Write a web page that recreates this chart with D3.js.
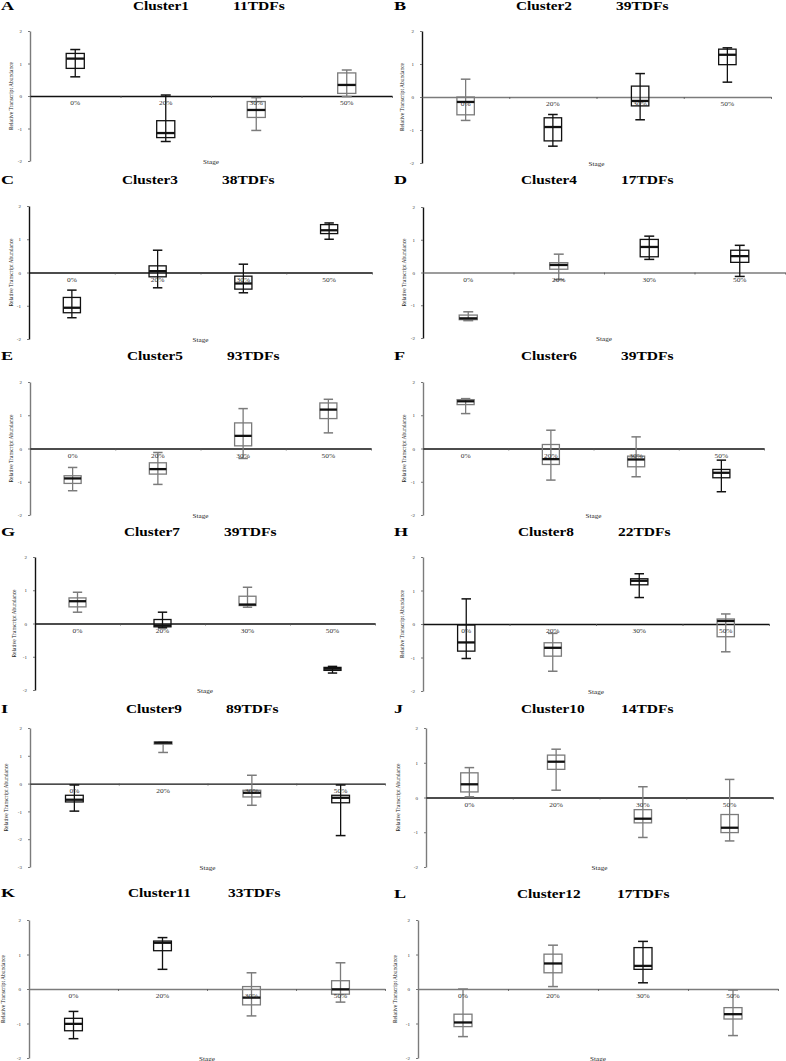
<!DOCTYPE html>
<html><head><meta charset="utf-8">
<script src="https://cdn.jsdelivr.net/npm/d3@7"></script>
<style>html,body{margin:0;padding:0;background:#fff}svg{display:block}</style>
</head><body><svg id="c" width="786" height="1061"></svg>
<script>
// ---------------- DATA ----------------
const categories = ["0%", "20%", "30%", "50%"];
const panelLetters = ["A","B","C","D","E","F","G","H","I","J","K","L"];
const clusterNames = ["Cluster1","Cluster2","Cluster3","Cluster4","Cluster5","Cluster6",
                      "Cluster7","Cluster8","Cluster9","Cluster10","Cluster11","Cluster12"];
const tdfLabels = ["11TDFs","39TDFs","38TDFs","17TDFs","93TDFs","39TDFs",
                   "39TDFs","22TDFs","89TDFs","14TDFs","33TDFs","17TDFs"];
const yMaxValue = 2;
const yMinValues = [-2,-2,-2,-2,-2,-2,-2,-2,-3,-2,-2,-2];
const yAxisTitle = "Relative Transcript Abundance";
const xAxisTitle = "Stage";
// each box: [min, q1, median, q3, max]
const cluster1  = [[0.59,0.85,1.15,1.31,1.43],[-1.40,-1.28,-1.14,-0.76,0.03],[-1.06,-0.66,-0.43,-0.17,-0.05],[-0.02,0.08,0.34,0.71,0.80]];
const cluster2  = [[-0.71,-0.54,-0.15,0.00,0.54],[-1.49,-1.33,-0.91,-0.63,-0.53],[-0.69,-0.27,-0.12,0.33,0.71],[0.45,0.98,1.28,1.45,1.49]];
const cluster3  = [[-1.36,-1.21,-1.06,-0.75,-0.53],[-0.46,-0.13,0.04,0.20,0.67],[-0.61,-0.50,-0.33,-0.11,0.25],[1.00,1.17,1.27,1.44,1.49]];
const cluster4  = [[-1.47,-1.44,-1.40,-1.30,-1.20],[-0.22,0.10,0.23,0.30,0.56],[0.40,0.48,0.78,1.01,1.11],[-0.12,0.31,0.50,0.68,0.83]];
const cluster5  = [[-1.27,-1.05,-0.90,-0.82,-0.57],[-1.08,-0.77,-0.62,-0.43,-0.12],[-0.30,0.08,0.38,0.77,1.20],[0.47,0.90,1.17,1.37,1.48]];
const cluster6  = [[1.05,1.32,1.42,1.47,1.50],[-0.95,-0.48,-0.32,0.12,0.55],[-0.85,-0.55,-0.33,-0.23,0.35],[-1.30,-0.88,-0.73,-0.63,-0.35]];
const cluster7  = [[0.34,0.50,0.67,0.77,0.94],[-0.13,-0.10,-0.06,0.12,0.34],[0.49,0.54,0.57,0.82,1.09],[-1.49,-1.41,-1.36,-1.32,-1.29]];
const cluster8  = [[-1.03,-0.81,-0.55,-0.03,0.75],[-1.41,-0.96,-0.71,-0.56,-0.28],[0.79,1.17,1.29,1.35,1.50],[-0.83,-0.38,0.09,0.15,0.30]];
const cluster9  = [[-0.99,-0.66,-0.58,-0.42,-0.05],[1.12,1.42,1.47,1.50,1.50],[-0.78,-0.48,-0.33,-0.24,0.30],[-1.87,-0.69,-0.51,-0.42,-0.05]];
const cluster10 = [[0.02,0.16,0.38,0.71,0.86],[0.21,0.81,1.03,1.22,1.39],[-1.15,-0.73,-0.61,-0.35,0.31],[-1.25,-1.01,-0.87,-0.49,0.52]];
const cluster11 = [[-1.44,-1.21,-1.01,-0.85,-0.65],[0.57,1.11,1.34,1.39,1.49],[-0.78,-0.46,-0.25,0.07,0.47],[-0.38,-0.15,-0.01,0.24,0.76]];
const cluster12 = [[-1.38,-1.09,-0.97,-0.73,0.00],[0.07,0.47,0.74,1.01,1.27],[0.18,0.57,0.67,1.20,1.38],[-1.35,-0.87,-0.73,-0.54,-0.03]];
const clusters = [cluster1,cluster2,cluster3,cluster4,cluster5,cluster6,cluster7,cluster8,cluster9,cluster10,cluster11,cluster12];

// ---------------- LAYOUT / STYLE ----------------
// x0: y-axis position, x1: end of x-axis, yTop/yBot: pixel of top/bottom domain values
const layout = [
  {left:0,   x0:30,  x1:392, yTop:31,  yBot:161, titleX:133, titleY:10,  labOff:18},
  {left:393, x0:422, x1:771, yTop:31,  yBot:163, titleX:123, titleY:10,  labOff:19},
  {left:0,   x0:29,  x1:372, yTop:206, yBot:339, titleX:122, titleY:184, labOff:17},
  {left:393, x0:423, x1:785, yTop:207, yBot:338, titleX:128, titleY:184, labOff:18},
  {left:0,   x0:30,  x1:371, yTop:382, yBot:515, titleX:127, titleY:360, labOff:18},
  {left:393, x0:423, x1:764, yTop:382, yBot:515, titleX:128, titleY:360, labOff:18},
  {left:0,   x0:35,  x1:375, yTop:557, yBot:690, titleX:124, titleY:536, labOff:20},
  {left:393, x0:423, x1:769, yTop:557, yBot:691, titleX:125, titleY:536, labOff:20},
  {left:0,   x0:30,  x1:385, yTop:728, yBot:867, titleX:126, titleY:713, labOff:23},
  {left:393, x0:426, x1:773, yTop:728, yBot:867, titleX:128, titleY:713, labOff:27},
  {left:0,   x0:29,  x1:385, yTop:920, yBot:1058,titleX:128, titleY:897, labOff:25},
  {left:393, x0:418, x1:778, yTop:920, yBot:1058,titleX:124, titleY:898, labOff:22}
];
const BLACK = "#111", GRAY = "#7b7b7b";
const axisTone = ["gk","kg","kk","kg","gk","gk","kk","gk","gk","gk","gg","gg"];
const boxTone  = ["kkgg","gkkk","kkkk","ggkk","gggg","gggk","gkgk","kgkg","kggk","gggg","kkgg","ggkg"];
const tone = c => c === "g" ? GRAY : BLACK;
const SERIF = "'Liberation Serif','DejaVu Serif',serif";

// ---------------- DRAW ----------------
const svg = d3.select("#c");

function stretchedText(g, x, y, txt, opts) {
  return g.append("text")
    .attr("transform", `translate(${x},${y}) scale(${opts.sx || 1},1)`)
    .attr("text-anchor", opts.anchor || "start")
    .attr("font-family", SERIF)
    .attr("font-size", opts.size)
    .attr("font-weight", opts.weight || "normal")
    .attr("fill", opts.fill || "#000")
    .text(txt);
}

clusters.forEach((data, i) => {
  const L = layout[i];
  const g = svg.append("g");
  const y = d3.scaleLinear().domain([yMinValues[i], yMaxValue]).range([L.yBot, L.yTop]);
  const x = d3.scaleBand().domain(categories).range([L.x0, L.x1]).padding(0);
  const xb = d3.scaleLinear().domain([0, categories.length]).range([L.x0, L.x1]);
  const bwid = x.bandwidth();

  // panel letter + titles
  stretchedText(g, L.left + 1, L.titleY, panelLetters[i], {size: 12.5, weight: "bold", sx: 1.45});
  stretchedText(g, L.left + L.titleX, L.titleY, clusterNames[i], {size: 11.5, weight: "bold", sx: 1.33});
  stretchedText(g, L.left + L.titleX + 100, L.titleY, tdfLabels[i], {size: 11.5, weight: "bold", sx: 1.35});

  // y axis
  const ya = g.append("g").attr("transform", `translate(${L.x0},0)`)
    .call(d3.axisLeft(y).tickValues(d3.range(yMinValues[i], yMaxValue + 1))
      .tickSize(2).tickSizeOuter(0).tickPadding(6).tickFormat(d => String(d)));
  ya.select(".domain").attr("stroke", tone(axisTone[i][0])).attr("stroke-width", 1.4);
  ya.selectAll(".tick line").attr("stroke", "#555").attr("stroke-width", 0.8);
  ya.selectAll(".tick text").attr("font-family", SERIF).attr("font-size", 5).attr("fill", "#333");

  // y axis title
  g.append("text")
    .attr("transform", `translate(${L.x0 - L.labOff},${(L.yTop + L.yBot) / 2}) rotate(-90)`)
    .attr("text-anchor", "middle").attr("dominant-baseline", "middle")
    .attr("font-family", SERIF).attr("font-size", 5.5).attr("fill", "#222")
    .text(yAxisTitle);

  // x axis (zero line with boundary ticks)
  const xa = g.append("g").attr("transform", `translate(0,${y(0)})`)
    .call(d3.axisBottom(xb).tickValues(d3.range(1, categories.length + 1))
      .tickSize(2).tickSizeOuter(0).tickFormat(""));
  xa.select(".domain").attr("stroke", tone(axisTone[i][1])).attr("stroke-width", 1.4);
  xa.selectAll(".tick line").attr("stroke", "#555").attr("stroke-width", 0.8);

  // x axis title
  stretchedText(g, (L.x0 + L.x1) / 2, L.yBot + 2.5, xAxisTitle, {size: 5.5, anchor: "middle", sx: 1.3, fill: "#222"});

  // boxes
  const bx = g.selectAll(".bx").data(data).join("g").attr("class", "bx")
    .attr("transform", (d, j) => `translate(${x(categories[j]) + bwid / 2},0)`);
  const boxW = bwid * 0.2, capW = bwid * 0.11;
  bx.each(function (d, j) {
    const s = d3.select(this);
    const col = tone(boxTone[i][j]);
    s.append("line").attr("x1", 0).attr("x2", 0).attr("y1", y(d[0])).attr("y2", y(d[4]))
      .attr("stroke", col).attr("stroke-width", 1.3);
    [d[0], d[4]].forEach(v => s.append("line").attr("x1", -capW / 2).attr("x2", capW / 2)
      .attr("y1", y(v)).attr("y2", y(v)).attr("stroke", col).attr("stroke-width", 1.5));
    s.append("rect").attr("x", -boxW / 2).attr("width", boxW)
      .attr("y", y(d[3])).attr("height", Math.max(0.5, y(d[1]) - y(d[3])))
      .attr("fill", "none").attr("stroke", col).attr("stroke-width", 1.3);
    s.append("line").attr("x1", -boxW / 2).attr("x2", boxW / 2)
      .attr("y1", y(d[2])).attr("y2", y(d[2])).attr("stroke", BLACK).attr("stroke-width", 2.3);
  });

  // category labels
  categories.forEach(c => {
    stretchedText(g, x(c) + bwid / 2, y(0) + 9, c, {size: 5.5, anchor: "middle", sx: 1.35, fill: "#333"});
  });
});
</script>
</body></html>
